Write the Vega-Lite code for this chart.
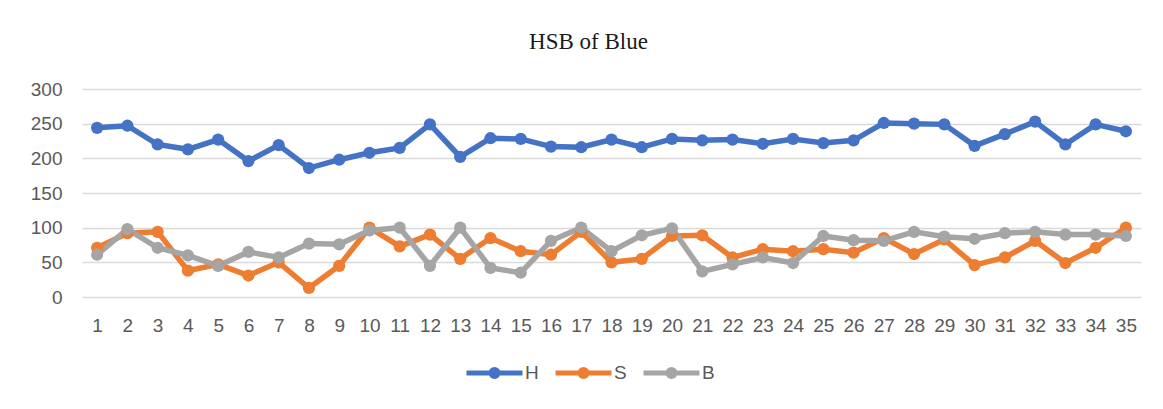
{
  "$schema": "https://vega.github.io/schema/vega-lite/v6.json",
  "autosize": {"type": "none"},
  "width": 1059,
  "height": 208,
  "padding": {"left": 82, "top": 89, "right": 22, "bottom": 112},
  "background": "white",
  "title": {
    "text": "HSB of Blue",
    "font": "Liberation Serif",
    "fontSize": 23,
    "fontWeight": "normal",
    "color": "#1a1a1a",
    "anchor": "middle",
    "frame": "group",
    "dx": -23,
    "offset": 26
  },
  "data": {
    "values": [
      {"n": 1, "c": "H", "v": 244}, {"n": 2, "c": "H", "v": 247}, {"n": 3, "c": "H", "v": 220}, {"n": 4, "c": "H", "v": 213}, {"n": 5, "c": "H", "v": 227},
      {"n": 6, "c": "H", "v": 196}, {"n": 7, "c": "H", "v": 219}, {"n": 8, "c": "H", "v": 186}, {"n": 9, "c": "H", "v": 198}, {"n": 10, "c": "H", "v": 208},
      {"n": 11, "c": "H", "v": 215}, {"n": 12, "c": "H", "v": 249}, {"n": 13, "c": "H", "v": 202}, {"n": 14, "c": "H", "v": 229}, {"n": 15, "c": "H", "v": 228},
      {"n": 16, "c": "H", "v": 217}, {"n": 17, "c": "H", "v": 216}, {"n": 18, "c": "H", "v": 227}, {"n": 19, "c": "H", "v": 216}, {"n": 20, "c": "H", "v": 228},
      {"n": 21, "c": "H", "v": 226}, {"n": 22, "c": "H", "v": 227}, {"n": 23, "c": "H", "v": 221}, {"n": 24, "c": "H", "v": 228}, {"n": 25, "c": "H", "v": 222},
      {"n": 26, "c": "H", "v": 226}, {"n": 27, "c": "H", "v": 251}, {"n": 28, "c": "H", "v": 250}, {"n": 29, "c": "H", "v": 249}, {"n": 30, "c": "H", "v": 218},
      {"n": 31, "c": "H", "v": 235}, {"n": 32, "c": "H", "v": 253}, {"n": 33, "c": "H", "v": 220}, {"n": 34, "c": "H", "v": 249}, {"n": 35, "c": "H", "v": 239},
      {"n": 1, "c": "S", "v": 71}, {"n": 2, "c": "S", "v": 92}, {"n": 3, "c": "S", "v": 94}, {"n": 4, "c": "S", "v": 38}, {"n": 5, "c": "S", "v": 47},
      {"n": 6, "c": "S", "v": 31}, {"n": 7, "c": "S", "v": 50}, {"n": 8, "c": "S", "v": 13}, {"n": 9, "c": "S", "v": 45}, {"n": 10, "c": "S", "v": 100},
      {"n": 11, "c": "S", "v": 73}, {"n": 12, "c": "S", "v": 90}, {"n": 13, "c": "S", "v": 55}, {"n": 14, "c": "S", "v": 85}, {"n": 15, "c": "S", "v": 66},
      {"n": 16, "c": "S", "v": 61}, {"n": 17, "c": "S", "v": 94}, {"n": 18, "c": "S", "v": 50}, {"n": 19, "c": "S", "v": 55}, {"n": 20, "c": "S", "v": 88},
      {"n": 21, "c": "S", "v": 89}, {"n": 22, "c": "S", "v": 57}, {"n": 23, "c": "S", "v": 69}, {"n": 24, "c": "S", "v": 66}, {"n": 25, "c": "S", "v": 69},
      {"n": 26, "c": "S", "v": 64}, {"n": 27, "c": "S", "v": 85}, {"n": 28, "c": "S", "v": 62}, {"n": 29, "c": "S", "v": 83}, {"n": 30, "c": "S", "v": 46},
      {"n": 31, "c": "S", "v": 57}, {"n": 32, "c": "S", "v": 81}, {"n": 33, "c": "S", "v": 49}, {"n": 34, "c": "S", "v": 71}, {"n": 35, "c": "S", "v": 100},
      {"n": 1, "c": "B", "v": 61}, {"n": 2, "c": "B", "v": 98}, {"n": 3, "c": "B", "v": 71}, {"n": 4, "c": "B", "v": 60}, {"n": 5, "c": "B", "v": 45},
      {"n": 6, "c": "B", "v": 65}, {"n": 7, "c": "B", "v": 57}, {"n": 8, "c": "B", "v": 77}, {"n": 9, "c": "B", "v": 76}, {"n": 10, "c": "B", "v": 96},
      {"n": 11, "c": "B", "v": 100}, {"n": 12, "c": "B", "v": 45}, {"n": 13, "c": "B", "v": 100}, {"n": 14, "c": "B", "v": 42}, {"n": 15, "c": "B", "v": 35},
      {"n": 16, "c": "B", "v": 81}, {"n": 17, "c": "B", "v": 100}, {"n": 18, "c": "B", "v": 66}, {"n": 19, "c": "B", "v": 89}, {"n": 20, "c": "B", "v": 99},
      {"n": 21, "c": "B", "v": 37}, {"n": 22, "c": "B", "v": 47}, {"n": 23, "c": "B", "v": 57}, {"n": 24, "c": "B", "v": 49}, {"n": 25, "c": "B", "v": 88},
      {"n": 26, "c": "B", "v": 82}, {"n": 27, "c": "B", "v": 81}, {"n": 28, "c": "B", "v": 94}, {"n": 29, "c": "B", "v": 87}, {"n": 30, "c": "B", "v": 84},
      {"n": 31, "c": "B", "v": 92}, {"n": 32, "c": "B", "v": 94}, {"n": 33, "c": "B", "v": 90}, {"n": 34, "c": "B", "v": 90}, {"n": 35, "c": "B", "v": 88}
    ]
  },
  "mark": {
    "type": "line",
    "strokeWidth": 5.5,
    "point": {"filled": true, "size": 150, "opacity": 1}
  },
  "encoding": {
    "x": {
      "field": "n",
      "type": "ordinal",
      "scale": {"type": "point", "padding": 0.5},
      "axis": {
        "title": null,
        "labelAngle": 0,
        "ticks": false,
        "domain": false,
        "labelPadding": 19,
        "labelFont": "Liberation Sans",
        "labelFontSize": 19,
        "labelColor": "#595959"
      }
    },
    "y": {
      "field": "v",
      "type": "quantitative",
      "scale": {"domain": [0, 300]},
      "axis": {
        "title": null,
        "values": [0, 50, 100, 150, 200, 250, 300],
        "ticks": false,
        "domain": false,
        "labelPadding": 20,
        "labelFont": "Liberation Sans",
        "labelFontSize": 19,
        "labelColor": "#595959",
        "gridColor": "#d9d9d9",
        "gridWidth": 1.5
      }
    },
    "color": {
      "field": "c",
      "type": "nominal",
      "sort": ["H", "S", "B"],
      "scale": {"domain": ["H", "S", "B"], "range": ["#4472C4", "#ED7D31", "#A5A5A5"]},
      "legend": {
        "title": null,
        "orient": "none",
        "direction": "horizontal",
        "legendX": 382,
        "legendY": 253,
        "symbolType": "M-1,0L1,0M-0.127,0A0.127,0.127,0,1,1,0.127,0A0.127,0.127,0,1,1,-0.127,0Z",
        "symbolSize": 3136,
        "symbolStrokeWidth": 5,
        "labelOffset": 0,
        "columnPadding": 6,
        "labelFont": "Liberation Sans",
        "labelFontSize": 19,
        "labelColor": "#595959",
        "encode": {
          "symbols": {"update": {"fill": {"scale": "color", "field": "value"}, "fillOpacity": {"value": 1}}}
        }
      }
    }
  },
  "config": {"view": {"stroke": null}}
}
